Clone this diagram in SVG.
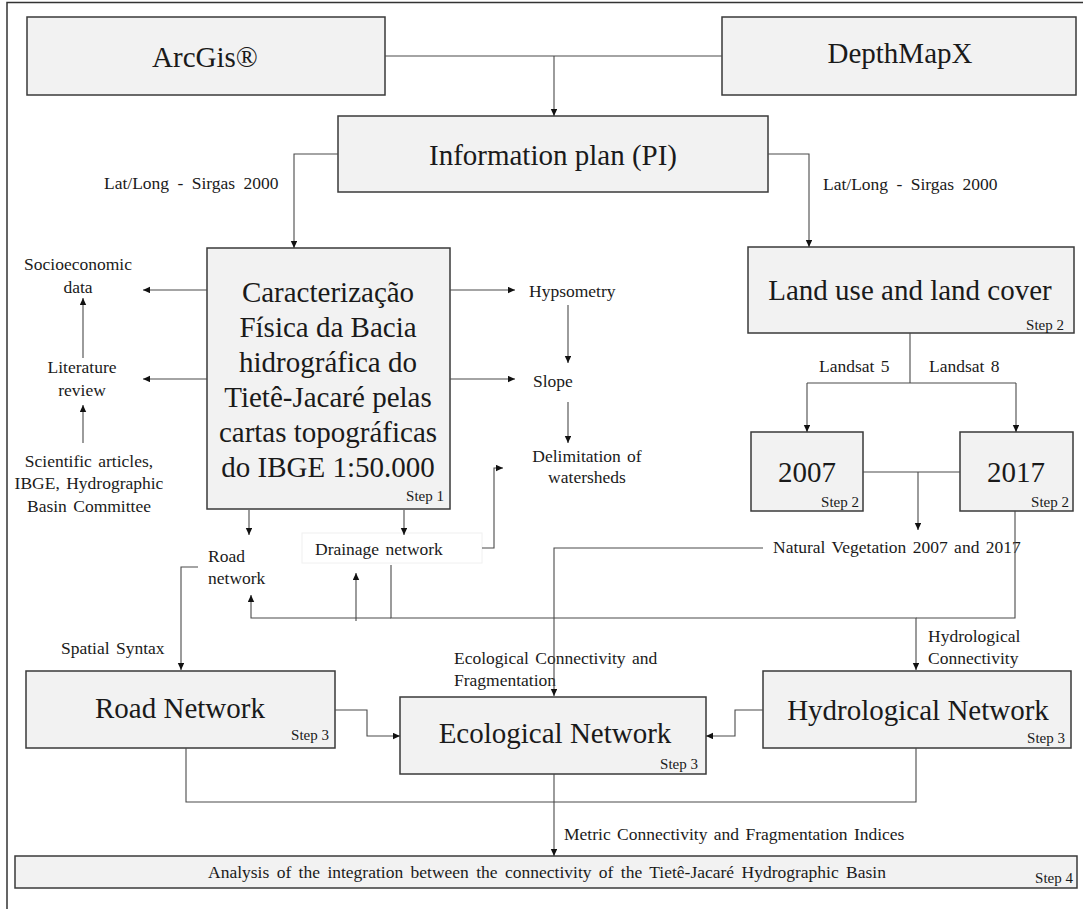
<svg xmlns="http://www.w3.org/2000/svg" width="1083" height="909" viewBox="0 0 1083 909">
<style>
text{font-family:"Liberation Serif","Times New Roman",serif;fill:#1a1a1a}
.box{fill:#f2f2f2;stroke:#3a3a3a;stroke-width:1.5}
.big{font-size:29px;text-anchor:middle}
.step{font-size:15px;text-anchor:end}
.lbl{font-size:17.5px;word-spacing:2px}
.c{text-anchor:middle}
.con path{fill:none;stroke:#4a4a4a;stroke-width:1.1}
.border{fill:none;stroke:#333;stroke-width:1.5}
</style>
<defs>
<marker id="ah" markerWidth="8" markerHeight="7" refX="7" refY="3.2" orient="auto" markerUnits="userSpaceOnUse">
<path d="M0,0 L7,3.2 L0,6.4 z" fill="#111"/>
</marker>
</defs>
<rect width="1083" height="909" fill="#fff"/>
<path class="border" d="M7,909 V2.5 H1083"/>

<g id="arcgis"><rect class="box" x="27" y="17" width="358" height="78"/><text class="big" x="205" y="67" font-size="28">ArcGis®</text></g>
<g id="depthmapx"><rect class="box" x="722" y="17" width="354" height="78"/><text class="big" x="900" y="63" font-size="28">DepthMapX</text></g>
<g id="infoplan"><rect class="box" x="338" y="116" width="430" height="76"/><text class="big" x="553" y="165">Information plan (PI)</text></g>
<g id="caracterizacao"><rect class="box" x="207" y="248" width="243" height="261"/>
<text class="big" x="328" y="302">Caracterização</text>
<text class="big" x="328" y="337">Física da Bacia</text>
<text class="big" x="328" y="372">hidrográfica do</text>
<text class="big" x="328" y="407">Tietê-Jacaré pelas</text>
<text class="big" x="328" y="442">cartas topográficas</text>
<text class="big" x="328" y="477">do IBGE 1:50.000</text>
<text class="step" x="444" y="501">Step 1</text></g>
<g id="landuse"><rect class="box" x="748" y="247" width="326" height="86"/><text class="big" x="910" y="300" font-size="27">Land use and land cover</text><text class="step" x="1064" y="330">Step 2</text></g>
<g id="y2007"><rect class="box" x="751" y="432" width="112" height="79"/><text class="big" x="807" y="482">2007</text><text class="step" x="859" y="507">Step 2</text></g>
<g id="y2017"><rect class="box" x="960" y="432" width="113" height="79"/><text class="big" x="1016" y="482">2017</text><text class="step" x="1069" y="507">Step 2</text></g>
<g id="roadnet"><rect class="box" x="26" y="671" width="309" height="77"/><text class="big" x="180" y="718">Road Network</text><text class="step" x="329" y="740">Step 3</text></g>
<g id="econet"><rect class="box" x="400" y="697" width="306" height="77"/><text class="big" x="555" y="743">Ecological Network</text><text class="step" x="698" y="769">Step 3</text></g>
<g id="hydronet"><rect class="box" x="763" y="671" width="308" height="77"/><text class="big" x="918" y="720">Hydrological Network</text><text class="step" x="1065" y="743">Step 3</text></g>
<g id="analysis"><rect class="box" x="15" y="856" width="1062" height="32"/><text class="lbl c" x="547" y="878" style="word-spacing:3px">Analysis of the integration between the connectivity of the Tietê-Jacaré Hydrographic Basin</text><text class="step" x="1073" y="883">Step 4</text></g>

<g id="labels">
<text class="lbl" x="104" y="189" style="word-spacing:4px">Lat/Long - Sirgas 2000</text>
<text class="lbl" x="823" y="190" style="word-spacing:4px">Lat/Long - Sirgas 2000</text>
<text class="lbl c" x="78" y="270">Socioeconomic</text>
<text class="lbl c" x="78" y="293">data</text>
<text class="lbl c" x="82" y="373">Literature</text>
<text class="lbl c" x="82" y="396">review</text>
<text class="lbl c" x="89" y="467">Scientific articles,</text>
<text class="lbl c" x="89" y="489">IBGE, Hydrographic</text>
<text class="lbl c" x="89" y="512">Basin Committee</text>
<text class="lbl" x="529" y="297">Hypsometry</text>
<text class="lbl" x="533" y="387">Slope</text>
<text class="lbl c" x="587" y="462">Delimitation of</text>
<text class="lbl c" x="587" y="483">watersheds</text>
<text class="lbl" x="819" y="372">Landsat 5</text>
<text class="lbl" x="929" y="372">Landsat 8</text>
<rect x="302" y="533" width="180" height="30" fill="#fff" stroke="#f0f0f0" stroke-width="1"/>
<text class="lbl" x="315" y="555">Drainage network</text>
<text class="lbl" x="208" y="562">Road</text>
<text class="lbl" x="208" y="584">network</text>
<text class="lbl" x="773" y="553">Natural Vegetation 2007 and 2017</text>
<text class="lbl" x="61" y="654">Spatial Syntax</text>
<text class="lbl" x="454" y="664">Ecological Connectivity and</text>
<text class="lbl" x="454" y="686">Fragmentation</text>
<text class="lbl" x="928" y="642">Hydrological</text>
<text class="lbl" x="928" y="664">Connectivity</text>
<text class="lbl" x="564" y="840">Metric Connectivity and Fragmentation Indices</text>
</g>

<g id="connectors" class="con">
<path d="M385,56 H722"/>
<path d="M554,56 V116" marker-end="url(#ah)"/>
<path d="M338,154 H294 V248" marker-end="url(#ah)"/>
<path d="M768,154 H809 V247" marker-end="url(#ah)"/>
<path d="M207,290 H143" marker-end="url(#ah)"/>
<path d="M207,379 H143" marker-end="url(#ah)"/>
<path d="M83,358 V298" marker-end="url(#ah)"/>
<path d="M83,443 V405" marker-end="url(#ah)"/>
<path d="M450,290 H515" marker-end="url(#ah)"/>
<path d="M450,379 H515" marker-end="url(#ah)"/>
<path d="M568,305 V363" marker-end="url(#ah)"/>
<path d="M568,402 V443" marker-end="url(#ah)"/>
<path d="M249,510 V535" marker-end="url(#ah)"/>
<path d="M404,510 V535" marker-end="url(#ah)"/>
<path d="M482,548 H494 V468 H503" marker-end="url(#ah)"/>
<path d="M198,567 H181 V670" marker-end="url(#ah)"/>
<path d="M356,621 V573" marker-end="url(#ah)"/>
<path d="M391,565 V618 H916 V670" marker-end="url(#ah)"/>
<path d="M1015,511 V618 H916"/>
<path d="M391,618 H251 V595" marker-end="url(#ah)"/>
<path d="M910,333 V383"/>
<path d="M807,383 H1016"/>
<path d="M807,383 V432" marker-end="url(#ah)"/>
<path d="M1016,383 V432" marker-end="url(#ah)"/>
<path d="M863,472 H960"/>
<path d="M918,472 V530" marker-end="url(#ah)"/>
<path d="M763,548 H554 V696" marker-end="url(#ah)"/>
<path d="M335,710 H367 V736 H400" marker-end="url(#ah)"/>
<path d="M763,710 H735 V736 H706" marker-end="url(#ah)"/>
<path d="M186,748 V802 H916 V748"/>
<path d="M554,774 V856" marker-end="url(#ah)"/>
</g>
</svg>
